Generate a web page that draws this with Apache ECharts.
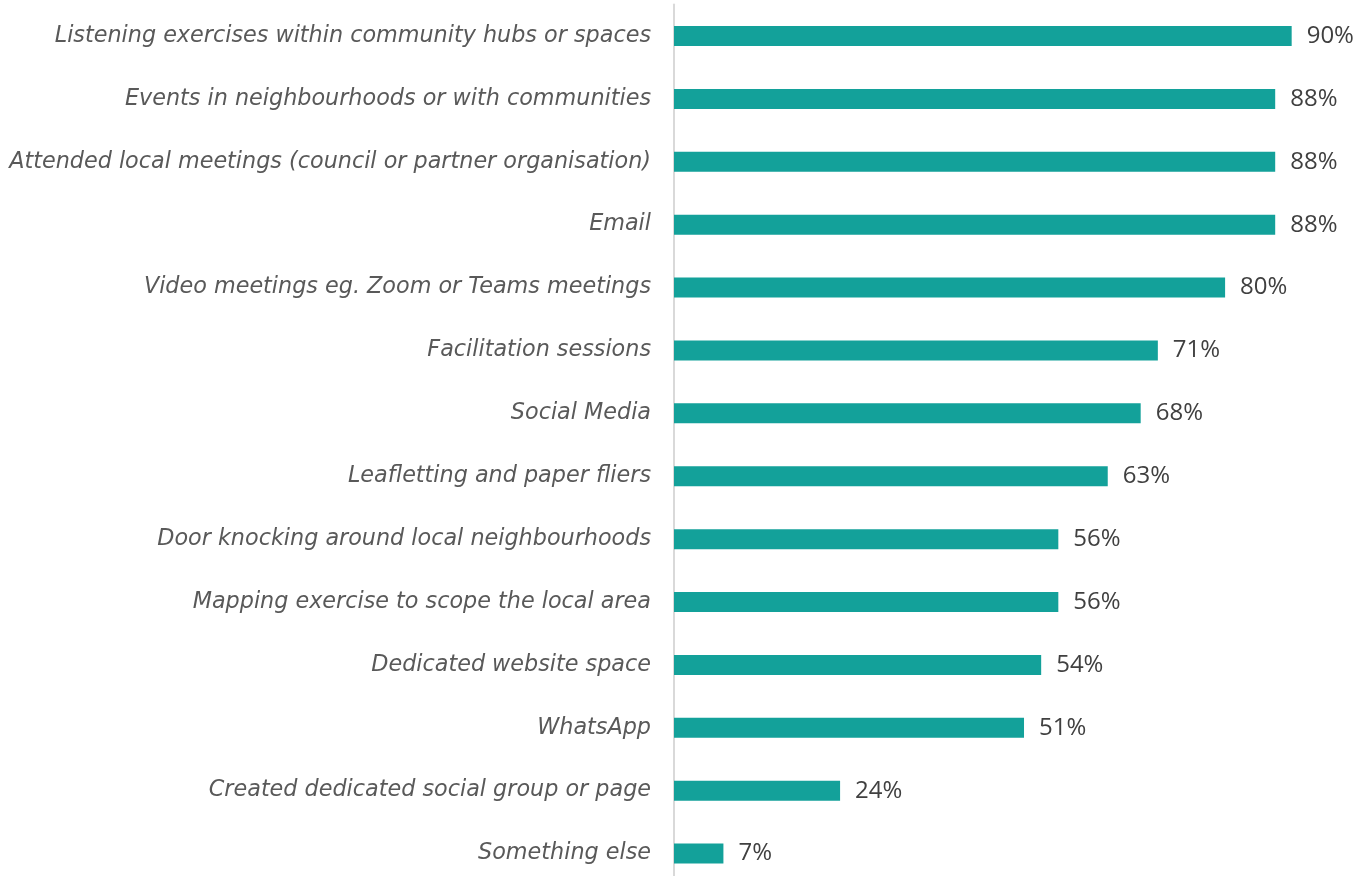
<!DOCTYPE html>
<html>
<head>
<meta charset="utf-8">
<script src="https://cdn.jsdelivr.net/npm/echarts@6/dist/echarts.min.js"></script>
<style>html,body{margin:0;padding:0;background:#fff;overflow:hidden}#c{width:1372px;height:885px}</style>
</head>
<body>
<div id="c"></div>
<script>
const categories = [
  "Listening exercises within community hubs or spaces",
  "Events in neighbourhoods or with communities",
  "Attended local meetings (council or partner organisation)",
  "Email",
  "Video meetings eg. Zoom or Teams meetings",
  "Facilitation sessions",
  "Social Media",
  "Leafletting and paper fliers",
  "Door knocking around local neighbourhoods",
  "Mapping exercise to scope the local area",
  "Dedicated website space",
  "WhatsApp",
  "Created dedicated social group or page",
  "Something else"
];
const values = [90, 87.6, 87.6, 87.6, 80.3, 70.5, 68.0, 63.2, 56.0, 56.0, 53.5, 51.0, 24.2, 7.2];

const chart = echarts.init(document.getElementById('c'), null, {renderer: 'canvas'});
chart.setOption({
  animation: false,
  backgroundColor: '#ffffff',
  grid: {left: 674, right: 11.7, top: 4.6, bottom: 0, containLabel: false},
  xAxis: {
    type: 'value', min: 0, max: 100,
    show: false
  },
  yAxis: {
    type: 'category',
    data: categories,
    inverse: true,
    axisLine: {show: true, lineStyle: {color: '#d9d9d9', width: 2}},
    axisTick: {show: false},
    splitLine: {show: false},
    axisLabel: {
      margin: 23,
      color: '#595959',
      fontFamily: 'DejaVu Sans',
      fontStyle: 'italic',
      fontSize: 22.3
    }
  },
  series: [{
    type: 'bar',
    data: values,
    barWidth: 20,
    itemStyle: {color: '#13a19a'},
    label: {
      show: true,
      position: 'right',
      distance: 15,
      color: '#404040',
      fontFamily: 'Open Sans',
      fontSize: 24,
      formatter: p => Math.round(p.value) + '%'
    }
  }]
});
</script>
</body>
</html>
